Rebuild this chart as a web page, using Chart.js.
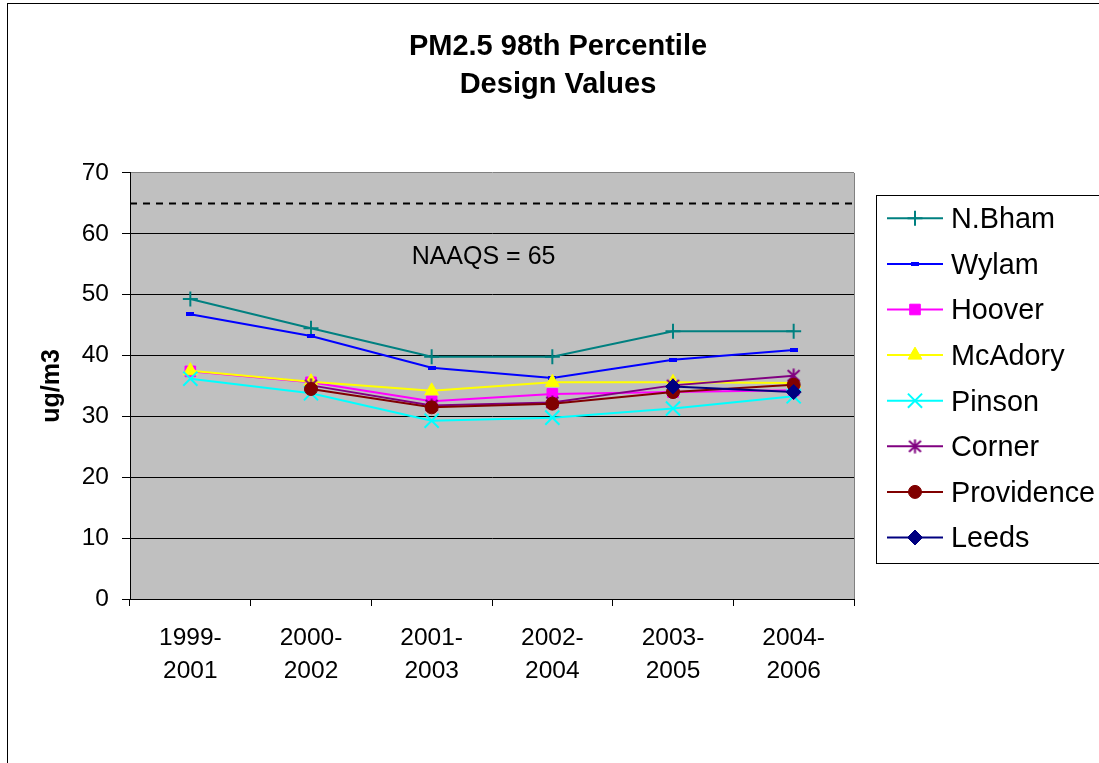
<!DOCTYPE html>
<html><head><meta charset="utf-8">
<script src="https://cdn.jsdelivr.net/npm/chart.js@4/dist/chart.umd.min.js"></script>
<style>html,body{margin:0;padding:0;background:#fff}canvas{display:block}</style>
</head><body>
<canvas id="c" width="1099" height="763"></canvas>
<script>
// ---- data ----
const categories = [['1999-','2001'],['2000-','2002'],['2001-','2003'],['2002-','2004'],['2003-','2005'],['2004-','2006']];
const seriesNames = ['N.Bham','Wylam','Hoover','McAdory','Pinson','Corner','Providence','Leeds'];
const nBham      = [49.3, 44.5, 39.8, 39.8, 44.0, 44.0];
const wylam      = [46.8, 43.2, 38.0, 36.3, 39.3, 40.9];
const hoover     = [37.4, 35.6, 32.5, 33.7, 34.0, 34.3];
const mcAdory    = [37.5, 35.7, 34.2, 35.6, 35.6, 35.5];
const pinson     = [36.2, 33.8, 29.3, 29.8, 31.3, 33.3];
const corner     = [null, 35.1, 31.8, 32.3, 35.1, 36.7];
const providence = [null, 34.5, 31.5, 32.1, 34.0, 35.2];
const leeds      = [null, null, null, null, 34.9, 34.0];
const naaqs = 65;
const naaqsLabel = 'NAAQS = 65';
const yMin = 0, yMax = 70, yStep = 10;
const chartTitle = ['PM2.5 98th Percentile', 'Design Values'];
const yTitle = 'ug/m3';

const FONT = '"Liberation Sans", Arial, sans-serif';

// custom markers
const wylamMarker = document.createElement('canvas');
wylamMarker.width = 8; wylamMarker.height = 4;
(function(){ const g = wylamMarker.getContext('2d'); g.fillStyle = '#0000FF'; g.fillRect(0,0,8,4); })();
const cornerMarker = document.createElement('canvas');
cornerMarker.width = 15; cornerMarker.height = 15;
(function(){
  const g = cornerMarker.getContext('2d'); g.strokeStyle = '#800080'; g.lineWidth = 2;
  g.beginPath(); g.moveTo(7.5,0.5); g.lineTo(7.5,14.5);
  g.moveTo(1.5,2); g.lineTo(13.5,13); g.moveTo(13.5,2); g.lineTo(1.5,13); g.stroke();
})();

const seriesData = [nBham, wylam, hoover, mcAdory, pinson, corner, providence, leeds];
const colors = ['#008080','#0000FF','#FF00FF','#FFFF00','#00FFFF','#800080','#800000','#000080'];
const styles = ['cross', wylamMarker, 'rect', 'triangle', 'crossRot', cornerMarker, 'circle', 'rectRot'];
const radii  = [7.5, 4, 7.5, 8, 10, 7, 6.5, 7.5];
const bws    = [2, 0, 1, 1, 2, 0, 1, 1];

const datasets = seriesNames.map((name, i) => ({
  label: name,
  data: seriesData[i],
  borderColor: colors[i],
  backgroundColor: colors[i],
  borderWidth: 2,
  pointStyle: styles[i],
  pointRadius: radii[i],
  pointHoverRadius: radii[i],
  pointBorderWidth: bws[i],
  pointBackgroundColor: colors[i],
  pointBorderColor: colors[i],
  tension: 0,
  spanGaps: false,
  order: seriesNames.length - i
}));

function drawMarker(ctx, style, radius, bw, color, x, y) {
  ctx.save();
  ctx.fillStyle = color; ctx.strokeStyle = color; ctx.lineWidth = bw;
  if (Chart.helpers && Chart.helpers.drawPoint) {
    Chart.helpers.drawPoint(ctx, {pointStyle: style, radius: radius, rotation: 0, borderWidth: bw}, x, y);
  } else if (typeof style !== 'string') {
    ctx.drawImage(style, x - style.width/2, y - style.height/2);
  } else {
    ctx.beginPath(); ctx.arc(x, y, radius, 0, Math.PI*2); ctx.fill();
  }
  ctx.restore();
}

const decor = {
  id: 'decor',
  beforeDraw(chart) {
    const ctx = chart.ctx, a = chart.chartArea;
    ctx.save();
    ctx.fillStyle = '#fff'; ctx.fillRect(0, 0, chart.width, chart.height);
    ctx.strokeStyle = '#000'; ctx.lineWidth = 1;
    ctx.strokeRect(7.5, 3.5, chart.width + 20, chart.height + 20);
    ctx.fillStyle = '#C0C0C0';
    ctx.fillRect(a.left, a.top, a.right - a.left, a.bottom - a.top);
    ctx.restore();
  },
  beforeDatasetsDraw(chart) {
    const ctx = chart.ctx, a = chart.chartArea, y = chart.scales.y;
    ctx.save();
    ctx.strokeStyle = '#808080'; ctx.lineWidth = 1;
    ctx.beginPath();
    ctx.moveTo(Math.round(a.right) + 0.5, a.top); ctx.lineTo(Math.round(a.right) + 0.5, a.bottom);
    ctx.stroke();
    const yp = y.getPixelForValue(naaqs);
    ctx.strokeStyle = '#000'; ctx.lineWidth = 2; ctx.setLineDash([7, 6]);
    ctx.beginPath(); ctx.moveTo(a.left, yp); ctx.lineTo(a.right, yp); ctx.stroke();
    ctx.setLineDash([]);
    ctx.fillStyle = '#000'; ctx.font = '25px ' + FONT;
    ctx.textAlign = 'left'; ctx.textBaseline = 'alphabetic';
    ctx.fillText(naaqsLabel, a.left + (a.right - a.left) * 0.389, y.getPixelForValue(55.1));
    ctx.restore();
  },
  afterDraw(chart) {
    const ctx = chart.ctx;
    ctx.save();
    ctx.fillStyle = '#fff';
    ctx.fillRect(876.5, 195.5, 240, 368);
    ctx.strokeStyle = '#000'; ctx.lineWidth = 1;
    ctx.strokeRect(876.5, 195.5, 240, 368);
    chart.data.datasets.forEach((ds, i) => {
      const yy = 218.3 + i * 45.6;
      ctx.strokeStyle = ds.borderColor; ctx.lineWidth = 2;
      ctx.beginPath(); ctx.moveTo(887, yy); ctx.lineTo(943, yy); ctx.stroke();
      drawMarker(ctx, ds.pointStyle, ds.pointRadius, ds.pointBorderWidth, ds.borderColor, 915, yy);
      ctx.fillStyle = '#000'; ctx.font = '28.8px ' + FONT;
      ctx.textAlign = 'left'; ctx.textBaseline = 'middle';
      ctx.fillText(ds.label, 951, yy + 2);
    });
    ctx.restore();
  }
};

new Chart(document.getElementById('c'), {
  type: 'line',
  data: { labels: categories, datasets: datasets },
  plugins: [decor],
  options: {
    responsive: false,
    animation: false,
    devicePixelRatio: 1,
    layout: { padding: { left: 17, right: 0, top: 0, bottom: 0 } },
    plugins: {
      legend: { display: false },
      tooltip: { enabled: false },
      title: {
        display: true, text: chartTitle, color: '#000',
        font: { family: FONT, size: 29, weight: 'bold', lineHeight: 1.32 },
        padding: { top: 27.5, bottom: 68.9 }
      }
    },
    scales: {
      x: {
        type: 'category', offset: true,
        grid: { offset: true, drawOnChartArea: false, drawTicks: true, tickLength: 7, color: '#000' },
        border: { color: '#000', width: 1 },
        ticks: { color: '#000', font: { family: FONT, size: 24.5, lineHeight: 1.36 }, padding: 15.5, maxRotation: 0, autoSkip: false },
        afterFit(s) { s.height = 164; }
      },
      y: {
        type: 'linear', min: yMin, max: yMax,
        grid: { color: c => (c.tick && c.tick.value === yMax) ? '#808080' : '#000', tickColor: '#000', tickLength: 8, lineWidth: 1 },
        border: { color: '#000', width: 1 },
        ticks: { stepSize: yStep, color: '#000', font: { family: FONT, size: 24.5 }, padding: 13 },
        title: { display: true, text: yTitle, color: '#000', font: { family: FONT, size: 25, weight: 'bold', lineHeight: 1.2 }, padding: { top: 20, bottom: 0 } },
        afterFit(s) { s.width = 113; }
      },
      y2: {
        type: 'linear', position: 'right', display: true, min: 0, max: 1,
        grid: { display: false, drawTicks: false },
        ticks: { display: false },
        border: { display: false },
        afterFit(s) { s.width = 245; }
      }
    }
  }
});
</script>
</body></html>
